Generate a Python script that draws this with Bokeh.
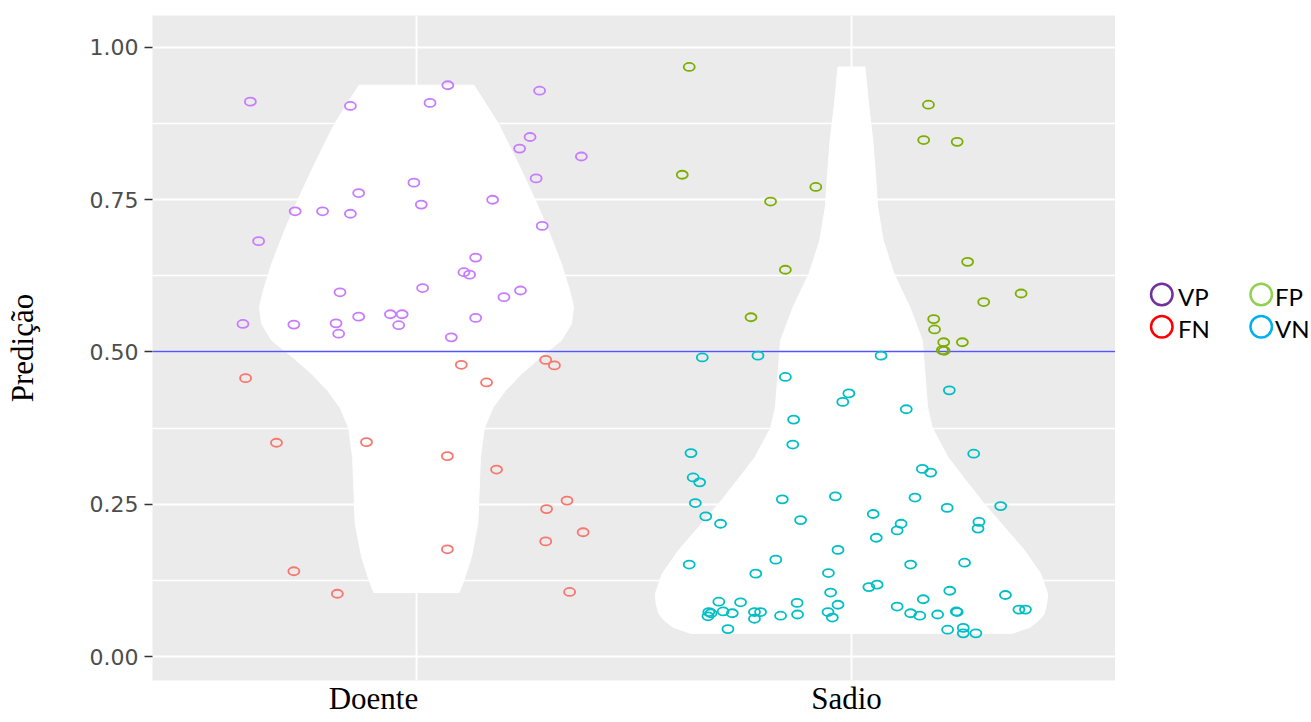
import numpy as np
from bokeh.plotting import figure
from bokeh.models import Range1d, FixedTicker
from bokeh.core.properties import value
from bokeh.layouts import row
from bokeh.embed import file_html
from bokeh.resources import INLINE

# ---------------- data ----------------
categories = ["Doente", "Sadio"]
y_ticks = [0.0, 0.25, 0.5, 0.75, 1.0]
y_minor = [0.125, 0.375, 0.625, 0.875]
y_tick_labels = ["0.00", "0.25", "0.50", "0.75", "1.00"]
threshold = 0.5
y_title = "Predição"
legend_labels = ["VP", "FP", "FN", "VN"]

# VP (Doente, predicted >= 0.5) : horizontal jitter offset and prediction
vp_dx = [-0.382, -0.363, -0.399, -0.279, -0.216, -0.152, -0.133, -0.152, -0.282, -0.176,
         -0.185, -0.179, -0.133, -0.060, -0.033, -0.041, -0.006, 0.011, 0.014, 0.031,
         0.072, 0.080, 0.283, 0.261, 0.237, 0.379, 0.275, 0.175, 0.289, 0.136,
         0.109, 0.122, 0.239, 0.201, 0.136]
vp_y = [0.911, 0.682, 0.546, 0.731, 0.731, 0.727, 0.761, 0.904, 0.545, 0.598,
        0.547, 0.530, 0.558, 0.562, 0.562, 0.544, 0.778, 0.742, 0.605, 0.909,
        0.938, 0.524, 0.929, 0.853, 0.834, 0.821, 0.785, 0.750, 0.707, 0.655,
        0.631, 0.627, 0.601, 0.590, 0.556]

# FN (Doente, predicted < 0.5)
fn_dx = [-0.393, -0.322, -0.115, 0.071, 0.071, -0.282, -0.182, 0.103, 0.161, 0.297,
         0.317, 0.184, 0.346, 0.299, 0.383, 0.297, 0.352]
fn_y = [0.457, 0.351, 0.352, 0.329, 0.176, 0.140, 0.103, 0.479, 0.450, 0.487,
        0.478, 0.307, 0.256, 0.242, 0.204, 0.189, 0.106]

# FP (Sadio, predicted >= 0.5)
fp_dx = [-0.373, 0.177, 0.166, 0.243, -0.389, -0.082, -0.186, 0.267, -0.152, 0.390,
         0.304, -0.231, 0.189, 0.191, 0.212, 0.255, 0.209, 0.213]
fp_y = [0.968, 0.906, 0.848, 0.845, 0.791, 0.771, 0.747, 0.648, 0.635, 0.596,
        0.582, 0.557, 0.554, 0.537, 0.516, 0.516, 0.503, 0.502]

# VN (Sadio, predicted < 0.5)
vn_dx = [-0.343, -0.215, -0.152, -0.006, -0.020, -0.133, -0.135, -0.369, -0.364, -0.349,
         -0.159, -0.037, -0.359, -0.335, -0.301, -0.117, 0.050, 0.057, -0.031, -0.373,
         -0.174, -0.220, -0.053, 0.040, 0.059, -0.048, -0.305, -0.255, -0.125, -0.031,
         -0.328, -0.323, -0.330, -0.295, -0.274, -0.223, -0.209, -0.223, -0.163, -0.124,
         -0.054, -0.044, -0.284, 0.225, 0.126, 0.281, 0.163, 0.182, 0.146, 0.220,
         0.343, 0.114, 0.105, 0.293, 0.291, 0.136, 0.260, 0.226, 0.165, 0.354,
         0.105, 0.136, 0.157, 0.198, 0.241, 0.243, 0.385, 0.400, 0.221, 0.257,
         0.257, 0.286, 0.068]
vn_y = [0.491, 0.494, 0.459, 0.432, 0.418, 0.389, 0.348, 0.334, 0.294, 0.286,
        0.258, 0.263, 0.252, 0.230, 0.218, 0.224, 0.234, 0.195, 0.175, 0.151,
        0.159, 0.136, 0.137, 0.114, 0.118, 0.105, 0.090, 0.089, 0.088, 0.085,
        0.073, 0.071, 0.066, 0.074, 0.071, 0.073, 0.073, 0.062, 0.067, 0.069,
        0.073, 0.064, 0.045, 0.437, 0.406, 0.333, 0.308, 0.302, 0.261, 0.244,
        0.247, 0.218, 0.207, 0.221, 0.210, 0.151, 0.154, 0.108, 0.094, 0.101,
        0.082, 0.071, 0.067, 0.069, 0.074, 0.073, 0.077, 0.077, 0.044, 0.047,
        0.038, 0.038, 0.494]

# violin outlines: level (prediction) and half width
doente_violin_y = [0.938, 0.875, 0.809, 0.754, 0.700, 0.645, 0.601, 0.574, 0.546, 0.519,
                   0.492, 0.464, 0.437, 0.409, 0.375, 0.327, 0.273, 0.218, 0.163, 0.125,
                   0.105]
doente_violin_hw = [0.132, 0.188, 0.234, 0.270, 0.303, 0.333, 0.352, 0.361, 0.356, 0.333,
                    0.286, 0.241, 0.205, 0.176, 0.156, 0.147, 0.144, 0.141, 0.126, 0.109,
                    0.098]
sadio_violin_y = [0.968, 0.902, 0.847, 0.793, 0.738, 0.683, 0.628, 0.574, 0.519, 0.464,
                  0.409, 0.375, 0.327, 0.289, 0.251, 0.212, 0.174, 0.136, 0.103, 0.087,
                  0.070, 0.059, 0.048, 0.038]
sadio_violin_hw = [0.031, 0.040, 0.049, 0.055, 0.060, 0.073, 0.098, 0.134, 0.163, 0.169,
                   0.175, 0.186, 0.222, 0.263, 0.305, 0.352, 0.398, 0.435, 0.451, 0.449,
                   0.443, 0.430, 0.410, 0.370]

# ---------------- style ----------------
PANEL = "#EBEBEB"
COL_VP, COL_FN, COL_FP, COL_VN = "#C77CFF", "#F8766D", "#7CAE00", "#00BFC4"
legend_colors = ["#7030A0", "#92D050", "#FF0000", "#00B0F0"]
SERIF = "Liberation Serif"
H = 722

cat_pos = {c: i + 1 for i, c in enumerate(categories)}
cat_label_dx = [-0.099, -0.0115]   # where the category names sit

# --- main panel ---
p = figure(width=1115, height=H, x_range=Range1d(0.393, 2.607),
           y_range=Range1d(-0.0394, 1.0525), toolbar_location=None,
           output_backend="svg", min_border_left=152, min_border_right=0,
           min_border_top=15, min_border_bottom=42)
p.background_fill_color = PANEL
p.border_fill_color = "white"
p.outline_line_color = None

p.xgrid.ticker = FixedTicker(ticks=[cat_pos[c] for c in categories])
p.xgrid.grid_line_color = "white"
p.xgrid.grid_line_width = 1.8
label_ticks = [cat_pos[c] + d for c, d in zip(categories, cat_label_dx)]
p.xaxis.ticker = FixedTicker(ticks=label_ticks)
p.xaxis.major_label_overrides = {t: c for t, c in zip(label_ticks, categories)}
p.xaxis.axis_line_color = None
p.xaxis.major_tick_line_color = None
p.xaxis.minor_tick_line_color = None
p.xaxis.major_tick_out = 0
p.xaxis.major_tick_in = 0
p.xaxis.major_label_standoff = 0
p.xaxis.major_label_text_font = SERIF
p.xaxis.major_label_text_font_size = "31px"
p.xaxis.major_label_text_color = "black"

p.yaxis.ticker = FixedTicker(ticks=y_ticks, minor_ticks=y_minor)
p.ygrid.grid_line_color = "white"
p.ygrid.grid_line_width = 1.8
p.ygrid.minor_grid_line_color = "white"
p.ygrid.minor_grid_line_width = 1.3
p.yaxis.major_label_overrides = {t: l for t, l in zip(y_ticks, y_tick_labels)}
p.yaxis.axis_line_color = None
p.yaxis.minor_tick_line_color = None
p.yaxis.major_tick_line_color = "#333333"
p.yaxis.major_tick_line_width = 1.5
p.yaxis.major_tick_out = 8
p.yaxis.major_tick_in = 0
p.yaxis.major_label_standoff = 6
p.yaxis.major_label_text_font = "DejaVu Sans"
p.yaxis.major_label_text_font_size = "22px"
p.yaxis.major_label_text_color = "#4D4D4D"
p.yaxis.axis_label = y_title
p.yaxis.axis_label_text_font = SERIF
p.yaxis.axis_label_text_font_size = "31px"
p.yaxis.axis_label_text_font_style = "normal"
p.yaxis.axis_label_text_color = "black"
p.yaxis.axis_label_standoff = 47

# violins
for c, vy, vhw in [("Doente", doente_violin_y, doente_violin_hw),
                   ("Sadio", sadio_violin_y, sadio_violin_hw)]:
    cx = cat_pos[c]
    hw = np.asarray(vhw)
    ys = np.asarray(vy)
    xs = np.concatenate([cx + hw, (cx - hw)[::-1]])
    yy = np.concatenate([ys, ys[::-1]])
    p.patch(xs, yy, fill_color="white", line_color="white", line_width=1)

# threshold line
p.hspan(y=[threshold], line_color="#5555FF", line_width=1.3)

# jittered points
series = [
    ("Doente", vp_dx, vp_y, COL_VP),
    ("Doente", fn_dx, fn_y, COL_FN),
    ("Sadio", fp_dx, fp_y, COL_FP),
    ("Sadio", vn_dx, vn_y, COL_VN),
]
for c, dx, yy, col in series:
    xx = [cat_pos[c] + d for d in dx]
    p.ellipse(x=xx, y=yy, width=11, height=8, width_units="screen",
              height_units="screen", fill_color=None, line_color=col,
              line_width=1.8)

# --- legend strip (pixel coordinates, origin bottom-left) ---
LW = 196
lg = figure(width=LW, height=H, x_range=Range1d(0, LW), y_range=Range1d(0, H),
            toolbar_location=None, output_backend="svg", min_border=0,
            x_axis_location=None, y_axis_location=None)
lg.outline_line_color = None
lg.background_fill_color = "white"
lg.border_fill_color = "white"
lg.grid.visible = False
leg_cx = [46.3, 145.7, 46.3, 145.7]
leg_cy = [H - 303, H - 303, H - 338, H - 338]
leg_tx = [62.5, 159.5, 62.5, 159.5]
leg_ty = [H - 305, H - 305, H - 340, H - 340]
lg.ellipse(x=leg_cx, y=leg_cy, width=21.5, height=21.5, width_units="screen",
           height_units="screen", fill_color=None, line_color=legend_colors,
           line_width=2.5)
lg.text(x=leg_tx, y=leg_ty, text=legend_labels, text_font_size="24px",
        text_baseline="alphabetic", text_align="left", text_color="black",
        text_font=value("Lato"))

layout = row(p, lg)
open("out.html", "w").write(file_html(layout, INLINE))
